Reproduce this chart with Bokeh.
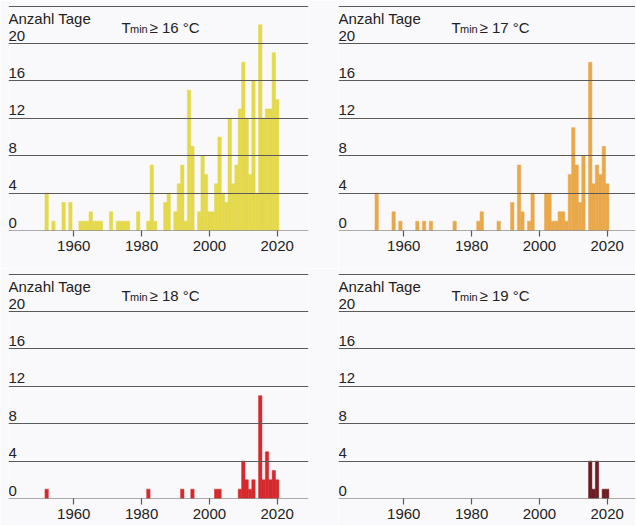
from bokeh.plotting import figure
from bokeh.layouts import gridplot
from bokeh.models import Range1d, FixedTicker, Label
from bokeh.core.properties import value
from bokeh.embed import file_html
from bokeh.resources import INLINE

# ---------------- data ----------------
years16 = [1952, 1954, 1957, 1959, 1962, 1963, 1964, 1965, 1966, 1967, 1968, 1971,
           1973, 1974, 1975, 1976, 1979, 1982, 1983, 1984, 1987, 1988, 1990, 1991,
           1992, 1993, 1994, 1995, 1997, 1998, 1999, 2000, 2001, 2002, 2003, 2004,
           2005, 2006, 2007, 2008, 2009, 2010, 2011, 2012, 2013, 2014, 2015, 2016,
           2017, 2018, 2019, 2020]
days16 = [4, 1, 3, 3, 1, 1, 1, 2, 1, 1, 1, 2,
          1, 1, 1, 1, 2, 1, 7, 1, 3, 4, 2, 5,
          7, 1, 15, 9, 2, 8, 6, 2, 2, 5, 10, 4,
          3, 12, 5, 7, 13, 18, 12, 6, 16, 4, 22, 12,
          13, 13, 19, 14]

years17 = [1952, 1957, 1959, 1964, 1966, 1968, 1975, 1982, 1983, 1988, 1992, 1994,
           1995, 1997, 1998, 2002, 2003, 2004, 2005, 2006, 2007, 2008, 2009, 2010,
           2011, 2012, 2013, 2015, 2016, 2017, 2018, 2019, 2020]
days17 = [4, 2, 1, 1, 1, 1, 1, 1, 2, 1, 3, 7,
          2, 1, 4, 4, 4, 1, 1, 2, 2, 1, 6, 11,
          7, 3, 8, 18, 5, 7, 6, 9, 5]

years18 = [1952, 1982, 1992, 1995, 2002, 2003, 2009, 2010, 2011, 2012, 2013, 2015,
           2016, 2017, 2018, 2019, 2020]
days18 = [1, 1, 1, 1, 1, 1, 1, 4, 2, 1, 2, 11,
          2, 5, 2, 3, 2]

years19 = [2015, 2016, 2017, 2019, 2020]
days19 = [4, 1, 4, 1, 1]

thresholds = ["16", "17", "18", "19"]
y_ticks = [0, 4, 8, 12, 16, 20]
y_tick_labels = ["0", "4", "8", "12", "16", "20"]
x_ticks = [1960, 1980, 2000, 2020]
y_title = "Anzahl Tage"

# ---------------- styling ----------------
PX_PER_YEAR = 3.39
PX_PER_DAY = 9.35
X_START = 1940.74
FONT = "Liberation Sans"
TEXT = "#222222"
GRID = "#5a5a5a"
BG = "#f9f9fb"
COLORS = ["#e4d84c", "#e9a84a", "#d42a2e", "#6b1d22"]
LIFT = 3.0 / PX_PER_DAY      # tick labels sit a little above their rule
HEAD_Y = 22.7                # baseline of "Anzahl Tage"
TITLE_Y = 21.7               # baseline of T_min title


def panel(years, days, thr, color, b_left, frame_w, b_right, frame_h, b_bottom):
    p = figure(width=b_left + frame_w + b_right, height=frame_h + b_bottom,
               output_backend="svg", toolbar_location=None,
               x_range=Range1d(X_START, X_START + frame_w / PX_PER_YEAR),
               y_range=Range1d(0, frame_h / PX_PER_DAY),
               y_axis_location=None,
               min_border_left=b_left, min_border_right=b_right,
               min_border_top=0, min_border_bottom=b_bottom,
               background_fill_color=BG, border_fill_color=BG,
               outline_line_color=None)
    p.xgrid.visible = False
    p.ygrid.visible = False

    p.vbar(x=years, top=days, bottom=0, width=1.0,
           fill_color=color, line_color=color, line_width=0.5)

    # horizontal rules (drawn over bars)
    p.hspan(y=y_ticks + [24], line_color=GRID, line_width=1.2)

    # y tick labels sitting on the rules
    p.text(x=[X_START] * len(y_ticks), y=[t + LIFT for t in y_ticks],
           text=y_tick_labels, x_offset=0,
           text_baseline="bottom", text_align="left",
           text_font=value(FONT), text_font_size="15px", text_color=TEXT)

    p.add_layout(Label(x=X_START, y=HEAD_Y, text=y_title,
                       text_font=FONT, text_font_size="15px",
                       text_color=TEXT, text_baseline="alphabetic"))
    p.add_layout(Label(x=X_START, y=TITLE_Y, x_offset=113, text="T",
                       text_font=FONT, text_font_size="15px",
                       text_color=TEXT, text_baseline="alphabetic"))
    p.add_layout(Label(x=X_START, y=TITLE_Y - 0.2, x_offset=121.5, text="min",
                       text_font=FONT, text_font_size="11px",
                       text_color=TEXT, text_baseline="alphabetic"))
    p.add_layout(Label(x=X_START, y=TITLE_Y, x_offset=141, text="\u2265 " + thr + " \u00b0C",
                       text_font=FONT, text_font_size="15px",
                       text_color=TEXT, text_baseline="alphabetic"))

    ax = p.xaxis[0]
    ax.ticker = FixedTicker(ticks=x_ticks)
    ax.axis_line_color = None
    ax.major_tick_in = 0
    ax.major_tick_out = 6
    ax.major_tick_line_color = GRID
    ax.major_tick_line_width = 1.2
    ax.minor_tick_line_color = None
    ax.major_label_standoff = 4
    ax.major_label_text_font = FONT
    ax.major_label_text_font_size = "15px"
    ax.major_label_text_color = TEXT
    return p


f1 = panel(years16, days16, thresholds[0], COLORS[0], 8, 300, 30, 230, 38)
f2 = panel(years17, days17, thresholds[1], COLORS[1], 0, 297, 0, 230, 38)
f3 = panel(years18, days18, thresholds[2], COLORS[2], 8, 300, 30, 230, 27)
f4 = panel(years19, days19, thresholds[3], COLORS[3], 0, 297, 0, 230, 27)

grid = gridplot([[f1, f2], [f3, f4]], toolbar_location=None)

open("out.html", "w").write(file_html(grid, INLINE))
